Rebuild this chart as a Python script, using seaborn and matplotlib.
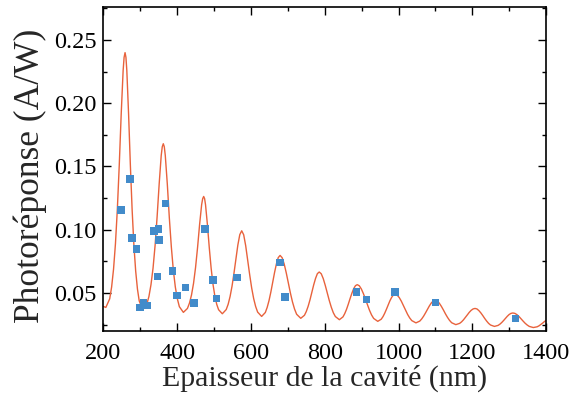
import numpy as np
import pandas as pd
import matplotlib
matplotlib.use("Agg")
import matplotlib.pyplot as plt
from matplotlib.ticker import MultipleLocator, FormatStrFormatter
import seaborn as sns

# Model curve (thickness in nm, photoresponse in A/W)
curve_x = [200, 207, 217.4, 222.6, 227.8, 233.0, 238.2, 243.4, 248.6, 253.8, 256.4, 259.0, 261.4, 263.8, 268.6, 273.4, 278.2, 283.0, 287.8, 292.6, 297.4, 307.0,
           318.1, 323.7, 329.2, 334.8, 340.4, 345.9, 351.5, 357.0, 359.8, 362.6, 365.3, 368.0, 373.5, 378.9, 384.4, 389.8, 395.2, 400.7, 406.1, 417.0,
           428.0, 433.5, 439.0, 444.5, 450.0, 455.5, 461.0, 466.5, 469.3, 472.0, 474.5, 477.0, 482.1, 487.2, 492.2, 497.3, 502.3, 507.4, 512.4, 522.5,
           533.0, 538.3, 543.5, 548.8, 554.0, 559.3, 564.5, 569.8, 575.0, 580.4, 585.8, 591.2, 596.6, 602.0, 607.4, 612.8, 618.2, 629.0,
           639.0, 644.0, 649.0, 654.0, 659.0, 664.0, 669.0, 674.0, 679.0, 684.6, 690.2, 695.8, 701.4, 707.0, 712.6, 718.2, 723.8, 735.0,
           745.0, 750.0, 755.0, 760.0, 765.0, 770.0, 775.0, 780.0, 785.0, 790.5, 795.9, 801.4, 806.8, 812.3, 817.8, 823.2, 828.7, 839.6,
           849.3, 854.1, 859.0, 863.8, 868.6, 873.5, 878.3, 883.2, 888.0, 893.6, 899.1, 904.7, 910.2, 915.8, 921.4, 926.9, 932.5, 943.6,
           953.0, 957.7, 962.4, 967.0, 971.7, 976.4, 981.1, 985.8, 990.5, 996.2, 1001.8, 1007.5, 1013.1, 1018.8, 1024.4, 1030.1, 1035.7, 1047.0,
           1057.4, 1062.6, 1067.8, 1073.0, 1078.2, 1083.4, 1088.6, 1093.8, 1099.0, 1104.6, 1110.2, 1115.8, 1121.4, 1127.0, 1132.6, 1138.2, 1143.8, 1155.0,
           1165.4, 1170.6, 1175.8, 1181.0, 1186.2, 1191.4, 1196.6, 1201.8, 1207.0, 1212.3, 1217.5, 1222.8, 1228.0, 1233.3, 1238.6, 1243.8, 1249.1, 1259.6,
           1269.6, 1274.6, 1279.5, 1284.6, 1289.5, 1294.5, 1299.5, 1304.5, 1309.5, 1315.0, 1320.6, 1326.2, 1331.7, 1337.3, 1342.8, 1348.4, 1354.0, 1365.0,
           1375.4, 1380.6, 1385.8, 1391.0, 1396.2, 1400.0]
curve_y = [0.0394, 0.0386, 0.0454, 0.0547, 0.0688, 0.0890, 0.1167, 0.1518, 0.1917, 0.2259, 0.2363, 0.2400, 0.2363, 0.2258, 0.1912, 0.1510, 0.1156, 0.0876, 0.0673, 0.0531, 0.0437, 0.0368,
           0.0413, 0.0473, 0.0565, 0.0696, 0.0877, 0.1105, 0.1365, 0.1588, 0.1656, 0.1680, 0.1656, 0.1587, 0.1360, 0.1096, 0.0864, 0.0680, 0.0547, 0.0454, 0.0392, 0.0347,
           0.0378, 0.0420, 0.0484, 0.0576, 0.0702, 0.0862, 0.1043, 0.1199, 0.1246, 0.1263, 0.1246, 0.1198, 0.1041, 0.0857, 0.0696, 0.0568, 0.0475, 0.0410, 0.0368, 0.0336,
           0.0369, 0.0411, 0.0472, 0.0554, 0.0655, 0.0768, 0.0878, 0.0961, 0.0992, 0.0960, 0.0874, 0.0760, 0.0645, 0.0540, 0.0456, 0.0393, 0.0349, 0.0315,
           0.0346, 0.0386, 0.0440, 0.0508, 0.0584, 0.0662, 0.0730, 0.0780, 0.0797, 0.0779, 0.0728, 0.0658, 0.0578, 0.0499, 0.0429, 0.0373, 0.0332, 0.0300,
           0.0324, 0.0354, 0.0395, 0.0446, 0.0505, 0.0564, 0.0615, 0.0653, 0.0666, 0.0652, 0.0614, 0.0560, 0.0500, 0.0440, 0.0387, 0.0344, 0.0314, 0.0289,
           0.0311, 0.0337, 0.0371, 0.0412, 0.0456, 0.0498, 0.0534, 0.0558, 0.0566, 0.0557, 0.0532, 0.0495, 0.0451, 0.0405, 0.0362, 0.0326, 0.0299, 0.0276,
           0.0293, 0.0313, 0.0340, 0.0371, 0.0405, 0.0438, 0.0465, 0.0484, 0.0490, 0.0483, 0.0464, 0.0435, 0.0400, 0.0364, 0.0331, 0.0303, 0.0282, 0.0264,
           0.0278, 0.0295, 0.0317, 0.0343, 0.0371, 0.0398, 0.0421, 0.0437, 0.0442, 0.0436, 0.0420, 0.0395, 0.0366, 0.0335, 0.0307, 0.0283, 0.0265, 0.0250,
           0.0260, 0.0272, 0.0288, 0.0307, 0.0327, 0.0347, 0.0363, 0.0374, 0.0378, 0.0374, 0.0361, 0.0343, 0.0322, 0.0299, 0.0278, 0.0260, 0.0247, 0.0236,
           0.0244, 0.0254, 0.0267, 0.0283, 0.0300, 0.0316, 0.0330, 0.0339, 0.0342, 0.0339, 0.0329, 0.0314, 0.0296, 0.0278, 0.0261, 0.0247, 0.0236, 0.0227,
           0.0233, 0.0241, 0.0252, 0.0264, 0.0277, 0.0282]

# Measured points
meas_x = [248, 272, 278, 290.5, 299.5, 309.5, 319, 337, 350, 351, 347, 369, 388, 399, 423, 446,
          475.6, 497, 507, 561.5, 679, 693, 885.6, 912.7, 990, 1099.7, 1316.5]
meas_y = [0.1158, 0.1400, 0.0934, 0.0848, 0.0384, 0.0423, 0.0400, 0.0992, 0.1006, 0.0920, 0.0629, 0.1208, 0.0674, 0.0481, 0.0542, 0.0423,
          0.1006, 0.0605, 0.0457, 0.0623, 0.0742, 0.0468, 0.0510, 0.0450, 0.0508, 0.0426, 0.0300]

x_ticks = [200, 400, 600, 800, 1000, 1200, 1400]
y_ticks = [0.05, 0.10, 0.15, 0.20, 0.25]

sns.set_style("ticks")
plt.rcParams['font.family'] = ['Liberation Serif', 'DejaVu Serif']

curve_df = pd.DataFrame({"x": curve_x, "y": curve_y})
meas_df = pd.DataFrame({"x": meas_x, "y": meas_y})

fig = plt.figure(figsize=(5.69, 3.94), dpi=100)
ax = fig.add_axes([0.1815, 0.16, 0.7785, 0.822])

sns.lineplot(data=curve_df, x="x", y="y", sort=False, estimator=None,
             color="#e8623c", linewidth=1.0, ax=ax, zorder=2)
sns.scatterplot(data=meas_df, x="x", y="y", marker="s", s=30,
                color="#428bca", edgecolor="none", linewidth=0, ax=ax, zorder=3)

ax.set_xlim(200, 1400)
ax.set_ylim(0.02, 0.276)
ax.set_xticks(x_ticks)
ax.set_yticks(y_ticks)
ax.xaxis.set_minor_locator(MultipleLocator(100))
ax.yaxis.set_minor_locator(MultipleLocator(0.025))
ax.yaxis.set_major_formatter(FormatStrFormatter('%.2f'))

ax.tick_params(which='both', direction='in', top=True, right=True, colors='black', width=1.0)
ax.tick_params(which='major', length=5.5, labelsize=17.5)
ax.tick_params(axis='x', which='major', pad=9)
ax.tick_params(axis='y', which='major', pad=5)
ax.tick_params(which='minor', length=3)
for sp in ax.spines.values():
    sp.set_linewidth(1.2)
    sp.set_color('black')

ax.set_xlabel("Epaisseur de la cavité (nm)", fontsize=21.5, labelpad=0)
ax.set_ylabel("Photoréponse (A/W)", fontsize=25.5)
ax.yaxis.set_label_coords(-0.127, 0.478)

fig.savefig("out.png", dpi=100)
